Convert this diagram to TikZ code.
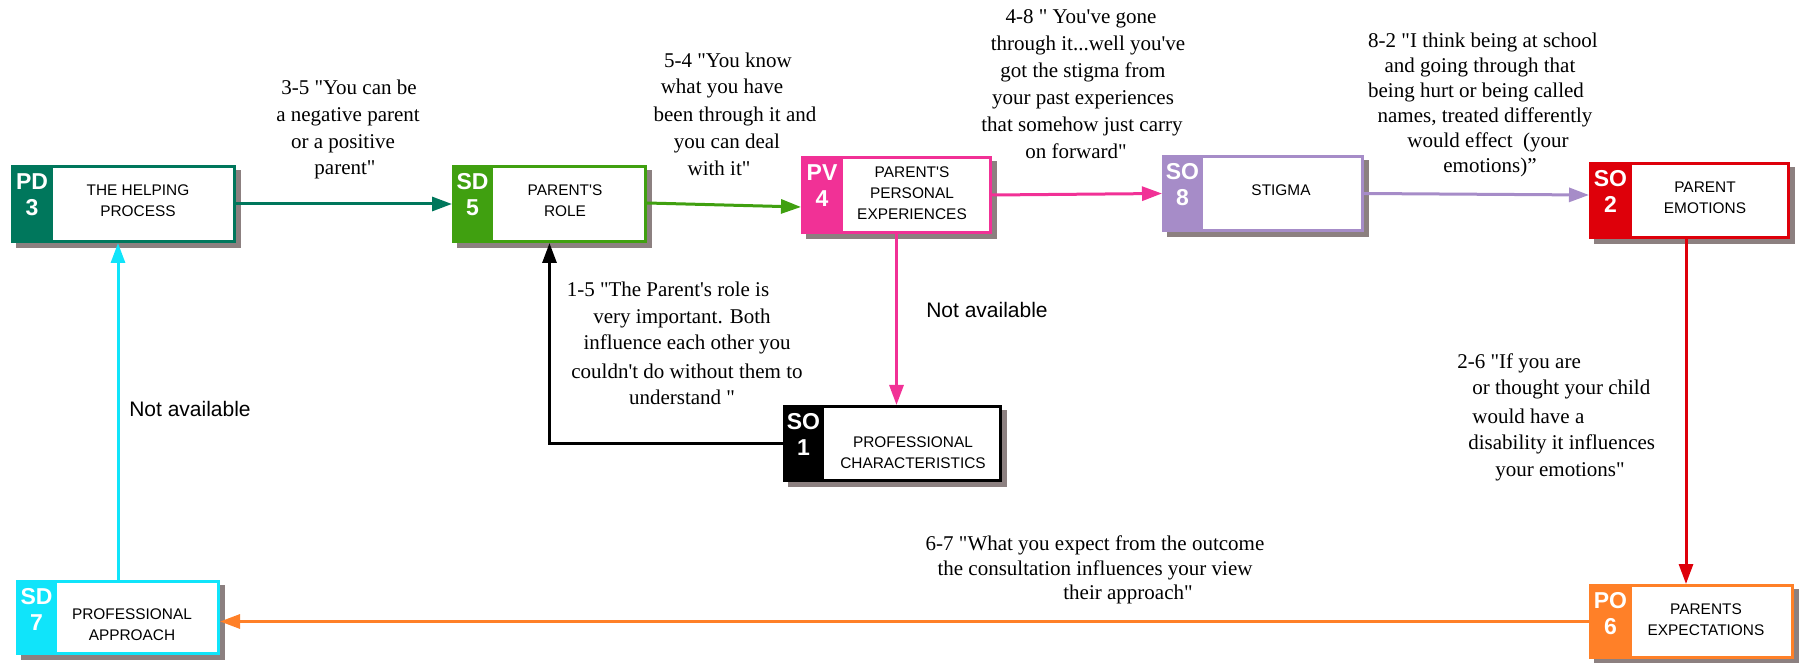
\documentclass[tikz,border=0pt]{standalone}
\usepackage{fontspec}
\setmainfont{Liberation Serif}
\setsansfont{Liberation Sans}
\usetikzlibrary{arrows.meta}
\definecolor{cPD}{RGB}{0,119,92}
\definecolor{cSD}{RGB}{64,160,16}
\definecolor{cPV}{RGB}{241,49,150}
\definecolor{cSOe}{RGB}{166,140,200}
\definecolor{cSOr}{RGB}{222,0,10}
\definecolor{cSOk}{RGB}{0,0,0}
\definecolor{cSDc}{RGB}{16,228,250}
\definecolor{cPO}{RGB}{255,128,40}
\definecolor{shc}{RGB}{140,128,128}
\newcommand\apo{\textquotesingle}
\newcommand\dq{\textquotedbl}
\newcommand\dbox[8]{%
  \fill[shc] (#2+5,#3+5) rectangle (#4+5,#5+5);
  \node[draw=#7, fill=white, line width=1.5pt, inner sep=0pt,
        minimum width={(#4-#2-3)*0.5pt}, minimum height={(#5-#3-3)*0.5pt}]
        (#1) at ({(#2+#4)/2},{(#3+#5)/2}) {};
  \fill[#7] (#2,#3) rectangle (#6,#5);
  \node[tabtxt] (#1t) at ({(#2+#6)/2},#3+8) {#8};
}
\begin{document}
\begin{tikzpicture}[x=0.5pt,y=-0.5pt,
  tabtxt/.style={anchor=north, text=white, font=\sffamily\bfseries\fontsize{11.5}{13}\selectfont, align=center, inner sep=0pt},
  lbl/.style={font=\sffamily\fontsize{7.7}{10.5}\selectfont, align=center, inner sep=0pt},
  qt/.style={font=\rmfamily\fontsize{10.5}{13}\selectfont, anchor=base, inner sep=0pt},
  qtw/.style={qt, anchor=base west},
  na/.style={font=\sffamily\fontsize{10.5}{13}\selectfont, inner sep=0pt},
  conn/.style={line width=1.5pt, draw=#1, -{Triangle[length=10pt,width=7pt]}}]
\useasboundingbox (0,0) rectangle (1801,663);

% boxes
\dbox{pd3}{11}{165}{236}{243}{53}{cPD}{PD\\3}
\dbox{sd5}{452}{165}{647}{243}{493}{cSD}{SD\\5}
\dbox{pv4}{801}{156}{992}{234}{843}{cPV}{PV\\4}
\dbox{so8}{1162}{155}{1364}{232}{1203}{cSOe}{SO\\8}
\dbox{so2}{1589}{162}{1790}{239}{1632}{cSOr}{SO\\2}
\dbox{so1}{783}{405}{1002}{482}{824}{cSOk}{SO\\1}
\dbox{sd7}{16}{580}{220}{655}{57}{cSDc}{SD\\7}
\dbox{po6}{1589}{584}{1794}{659}{1632}{cPO}{PO\\6}

\node[lbl] (pd3l) at (138,201) {THE HELPING\\PROCESS};
\node[lbl] (sd5l) at (565,201) {PARENT\apo S\\ROLE};
\node[lbl] (pv4l) at (912,193) {PARENT\apo S\\PERSONAL\\EXPERIENCES};
\node[lbl] (so8l) at (1281,190) {STIGMA};
\node[lbl] (so2l) at (1705,198) {PARENT\\EMOTIONS};
\node[lbl] (so1l) at (913,453) {PROFESSIONAL\\CHARACTERISTICS};
\node[lbl] (sd7l) at (132,624.5) {PROFESSIONAL\\APPROACH};
\node[lbl] (po6l) at (1706,619.5) {PARENTS\\EXPECTATIONS};

% connectors
\draw[conn=cPD] (pd3.east) -- (sd5.west);
\draw[conn=cSD] ([yshift=0.5pt]sd5.east) -- ([yshift=-6pt]pv4.west);
\draw[conn=cPV] (pv4.east) -- (so8.west);
\draw[conn=cSOe] (so8.east) -- ([yshift=2.75pt]so2.west);
\draw[conn=cSOr] ([xshift=-1.75pt]so2.south) -- ([xshift=-1.75pt]so2.south |- po6.north);
\draw[conn=cPO] (po6.west) -- (po6.west -| sd7.east);
\draw[conn=cSDc] (sd7.north) -- (sd7.north |- pd3.south);
\draw[conn=cPV] (pv4.south) -- (pv4.south |- so1.north);
\draw[conn=cSOk] (so1.west) -| (sd5.south);

% quotes
\node[qt] (q35a) at (349,95) {3-5 \dq{}You can be};
\node[qt] (q35b) at (348,122) {a negative parent};
\node[qt] (q35c) at (343,149) {or a positive};
\node[qt] (q35d) at (345,175) {parent\dq{}};

\node[qt] (q54a) at (728,68) {5-4 \dq{}You know};
\node[qt] (q54b) at (722,94) {what you have};
\node[qt] (q54c) at (735,122) {been through it and};
\node[qt] (q54d) at (727,149) {you can deal};
\node[qt] (q54e) at (719,176) {with it\dq{}};

\node[qt] (q48a) at (1081,24) {4-8 \dq{} You\apo ve gone};
\node[qt] (q48b) at (1088,51) {through it...well you\apo ve};
\node[qt] (q48c) at (1083,78) {got the stigma from};
\node[qt] (q48d) at (1083,105) {your past experiences};
\node[qt] (q48e) at (1082,132) {that somehow just carry};
\node[qt] (q48f) at (1076,159) {on forward\dq{}};

\node[qt] (q82a) at (1483,48) {8-2 \dq{}I think being at school};
\node[qt] (q82b) at (1480,73) {and going through that};
\node[qt] (q82c) at (1476,98) {being hurt or being called};
\node[qt] (q82d) at (1485,123) {names, treated differently};
\node[qt] (q82e) at (1488,148) {would effect \ (your};
\node[qt] (q82f) at (1490,173) {emotions)”};

\node[qt] (q15a) at (668,297) {1-5 \dq{}The Parent\apo s role is};
\node[qt] (q15b) at (682,324) {very important. Both};
\node[qt] (q15c) at (687,350) {influence each other you};
\node[qt] (q15d) at (687,379) {couldn\apo t do without them to};
\node[qt] (q15e) at (682,405) {understand \dq{}};

\node[qtw] (q26a) at (1457,369) {2-6 \dq{}If you are};
\node[qtw] (q26b) at (1472,395) {or thought your child};
\node[qtw] (q26c) at (1472,423) {would have a};
\node[qtw] (q26d) at (1468,450) {disability it influences};
\node[qtw] (q26e) at (1495,477) {your emotions\dq{}};

\node[qt] (q67a) at (1095,550) {6-7 \dq{}What you expect from the outcome};
\node[qt] (q67b) at (1095,575) {the consultation influences your view};
\node[qt] (q67c) at (1128,599) {their approach\dq{}};

\node[na] (na1) at (190,409) {Not available};
\node[na] (na2) at (987,310) {Not available};
\end{tikzpicture}
\end{document}
